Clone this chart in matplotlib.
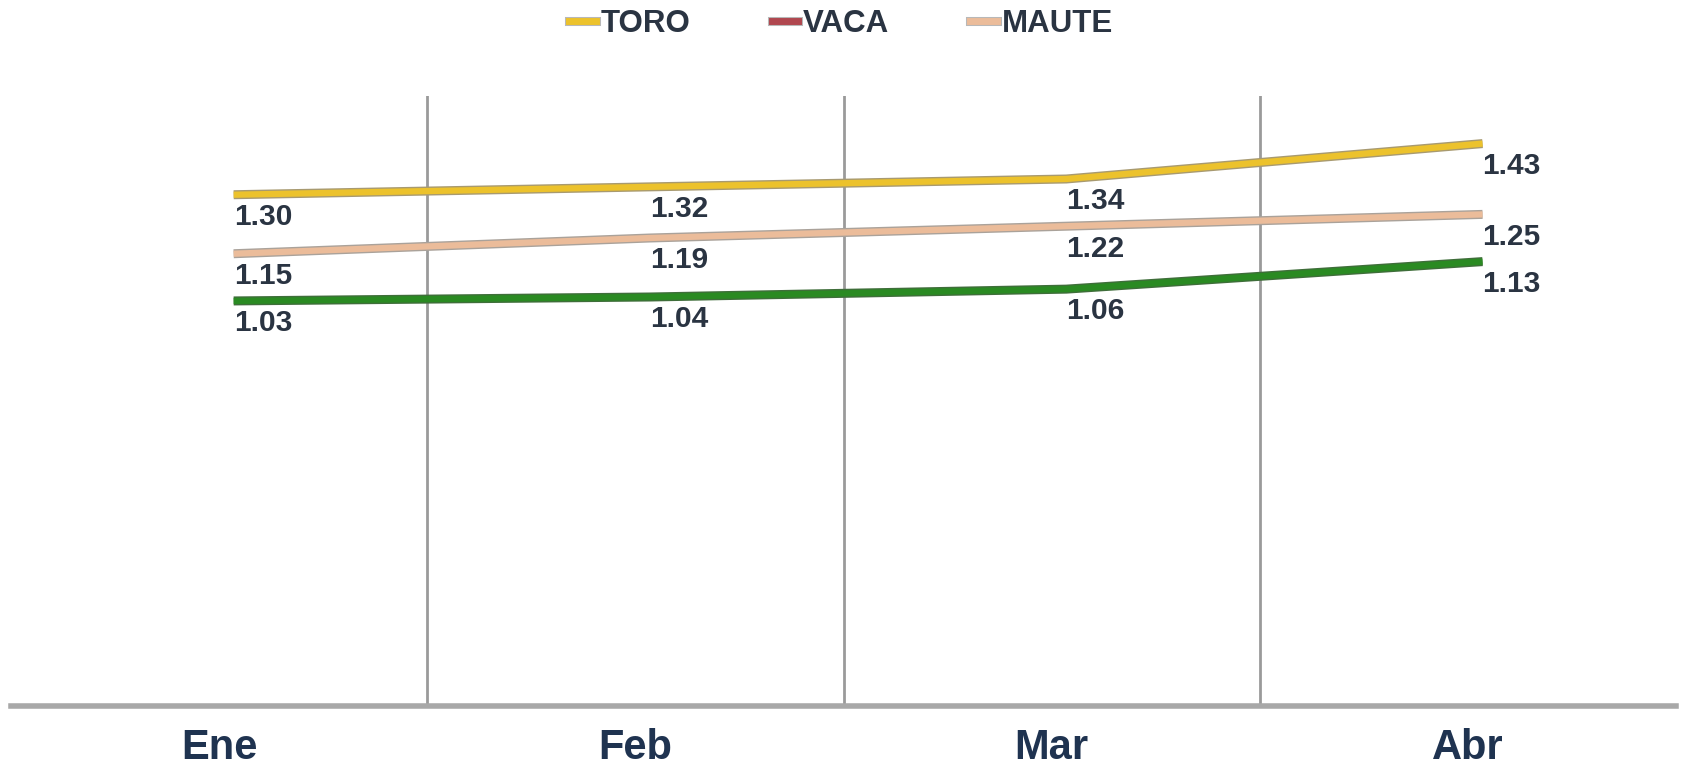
import numpy as np
import matplotlib
matplotlib.use("Agg")
from matplotlib import pyplot as plt
from matplotlib.lines import Line2D
import matplotlib.patheffects as pe

months = ["Ene", "Feb", "Mar", "Abr"]
toro = [1.30, 1.32, 1.34, 1.43]
vaca = [1.03, 1.04, 1.06, 1.13]
maute = [1.15, 1.19, 1.22, 1.25]

plt.rcParams['font.family'] = ['Liberation Sans', 'DejaVu Sans']
text_col = '#2a3442'

fig = plt.figure(figsize=(16.82, 7.65), dpi=100)
ax = fig.add_axes([0.0065, 0.077, 0.99, 0.797])

x = np.arange(len(months)) + 0.035

series = [
    ("TORO", toro, '#ecc22c', '#a89a70', '#ecc22c'),
    ("VACA", vaca, '#2a8a22', '#3f6e3a', '#b0474f'),
    ("MAUTE", maute, '#ebbc9a', '#aaa29a', '#ebbc9a'),
]

for name, vals, col, edge, legcol in series:
    ax.plot(x, vals, color=col, lw=4.5, solid_capstyle='butt', zorder=3,
            path_effects=[pe.Stroke(linewidth=6.5, foreground=edge), pe.Normal()])
    for xi, v in zip(x, vals):
        ax.annotate(f"{v:.2f}", (xi, v), xytext=(0, -6), textcoords='offset points',
                    ha='left', va='top', fontsize=21.5, fontweight='bold', color=text_col)

# vertical separators between categories
for b in np.arange(len(months) - 1) + 0.5:
    ax.axvline(b, color='#9a9a9a', lw=2, zorder=1)

ax.set_xlim(-0.5, len(months) - 0.5)
ax.set_ylim(0, 1.55)
ax.set_yticks([])
ax.set_xticks(np.arange(len(months)))
ax.set_xticklabels(months, fontsize=30, fontweight='bold', color='#1f3350')
ax.tick_params(axis='x', length=0, pad=16)
for s in ['top', 'right', 'left']:
    ax.spines[s].set_visible(False)
ax.spines['bottom'].set_color('#a8a8a8')
ax.spines['bottom'].set_linewidth(4)

handles = [Line2D([0], [0], color=lc, lw=5,
                  path_effects=[pe.Stroke(linewidth=6.5, foreground='#b8b8b8'), pe.Normal()])
           for _, _, _, _, lc in series]
fig.legend(handles, [s[0] for s in series], loc='upper center', ncol=3,
           bbox_to_anchor=(0.5, 1.025), frameon=False,
           handlelength=0.85, handletextpad=0.15, columnspacing=2.6,
           labelcolor=text_col, prop={'weight': 'bold', 'size': 22.5})

fig.savefig("out.png", dpi=100)
